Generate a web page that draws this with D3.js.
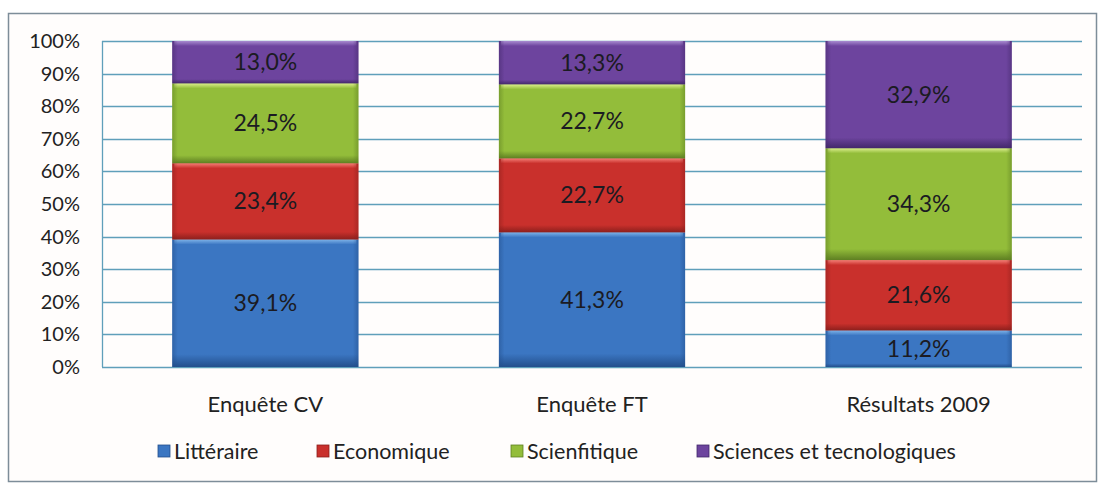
<!DOCTYPE html>
<html>
<head>
<meta charset="utf-8">
<script src="https://cdn.jsdelivr.net/npm/d3@7"></script>
<style>
  body { margin: 0; background: #fff; }
  svg { display: block; font-family: "Lato", "Open Sans", sans-serif; }
</style>
</head>
<body>
<svg id="chart"></svg>
<script>
const width = 1098;
const height = 485;

// data
const categories = ["Enquête CV", "Enquête FT", "Résultats 2009"];
const seriesNames = ["Littéraire", "Economique", "Scienfitique", "Sciences et tecnologiques"];
const litteraire = [39.1, 41.3, 11.2];
const economique = [23.4, 22.7, 21.6];
const scienfitique = [24.5, 22.7, 34.3];
const sciences = [13.0, 13.3, 32.9];
const yTicks = [0, 10, 20, 30, 40, 50, 60, 70, 80, 90, 100];

const seriesValues = [litteraire, economique, scienfitique, sciences];
const colors = [
  { base: "#3b76c2", light: "#7db2e8", dark: "#234f8c" },
  { base: "#c9302c", light: "#f47e76", dark: "#8c1f1c" },
  { base: "#93bd3a", light: "#dbee8c", dark: "#5e7f22" },
  { base: "#6d449e", light: "#a88bd0", dark: "#43286a" }
];

const plot = { left: 102, right: 1082, top: 41, bottom: 367 };
const bevel = 5; // px height of the light top edge

var svg = d3.select("#chart").attr("width", width).attr("height", height);
var defs = svg.append("defs");

// chart frame
svg.append("rect")
  .attr("x", 8.5).attr("y", 13.5)
  .attr("width", 1088).attr("height", 468)
  .attr("fill", "#fffdfc")
  .attr("stroke", "#7d8d99").attr("stroke-width", 1.5);

var x = d3.scaleBand()
  .domain(categories)
  .range([plot.left, plot.right])
  .paddingInner(0.43).paddingOuter(0.215);

var y = d3.scaleLinear().domain([0, 100]).range([plot.bottom, plot.top]);

// gridlines
svg.append("g").selectAll("line")
  .data(yTicks)
  .enter().append("line")
  .attr("x1", plot.left).attr("x2", plot.right)
  .attr("y1", d => Math.round(y(d)) + 0.5)
  .attr("y2", d => Math.round(y(d)) + 0.5)
  .attr("stroke", "#5f9fba").attr("stroke-width", 1.3);

svg.append("line")
  .attr("x1", plot.left + 0.5).attr("x2", plot.left + 0.5)
  .attr("y1", plot.top).attr("y2", plot.bottom)
  .attr("stroke", "#5f9fba").attr("stroke-width", 1.3);

// y axis labels
svg.append("g").selectAll("text")
  .data(yTicks)
  .enter().append("text")
  .attr("x", 80)
  .attr("y", d => y(d))
  .attr("dy", "0.35em")
  .attr("text-anchor", "end")
  .attr("font-size", 20)
  .attr("fill", "#222")
  .text(d => d + "%");

// gradients for the bevelled bars
colors.forEach((c, i) => {
  var g = defs.append("linearGradient").attr("id", "grad" + i)
    .attr("x1", 0).attr("x2", 0).attr("y1", 0).attr("y2", 1);
  g.append("stop").attr("offset", "0%").attr("stop-color", c.base);
  g.append("stop").attr("offset", "90%").attr("stop-color", c.base);
  g.append("stop").attr("offset", "100%").attr("stop-color", c.dark);
  var t = defs.append("linearGradient").attr("id", "top" + i)
    .attr("x1", 0).attr("x2", 0).attr("y1", 0).attr("y2", 1);
  t.append("stop").attr("offset", "0%").attr("stop-color", c.light);
  t.append("stop").attr("offset", "100%").attr("stop-color", c.base);
  var s = defs.append("linearGradient").attr("id", "side" + i)
    .attr("x1", 0).attr("x2", 1).attr("y1", 0).attr("y2", 0);
  s.append("stop").attr("offset", "0%").attr("stop-color", c.dark).attr("stop-opacity", 0.5);
  s.append("stop").attr("offset", "3%").attr("stop-color", c.dark).attr("stop-opacity", 0);
  s.append("stop").attr("offset", "97%").attr("stop-color", c.dark).attr("stop-opacity", 0);
  s.append("stop").attr("offset", "100%").attr("stop-color", c.dark).attr("stop-opacity", 0.5);
});

var table = categories.map((c, i) => {
  var row = { cat: c };
  seriesNames.forEach((s, k) => { row[s] = seriesValues[k][i]; });
  return row;
});
var stacked = d3.stack().keys(seriesNames)(table);

var layer = svg.append("g").selectAll("g")
  .data(stacked)
  .enter().append("g");

var seg = layer.selectAll("g")
  .data((d, i) => d.map(p => ({ p: p, i: i })))
  .enter().append("g");

seg.append("rect")
  .attr("x", d => x(d.p.data.cat))
  .attr("y", d => y(d.p[1]))
  .attr("width", x.bandwidth())
  .attr("height", d => y(d.p[0]) - y(d.p[1]))
  .attr("fill", d => "url(#grad" + d.i + ")");

// light top edge
seg.append("rect")
  .attr("x", d => x(d.p.data.cat) + 2)
  .attr("y", d => y(d.p[1]))
  .attr("width", x.bandwidth() - 4)
  .attr("height", bevel)
  .attr("fill", d => "url(#top" + d.i + ")");

seg.append("rect")
  .attr("x", d => x(d.p.data.cat))
  .attr("y", d => y(d.p[1]))
  .attr("width", x.bandwidth())
  .attr("height", d => y(d.p[0]) - y(d.p[1]))
  .attr("fill", d => "url(#side" + d.i + ")");

seg.append("text")
  .attr("x", d => x(d.p.data.cat) + x.bandwidth() / 2)
  .attr("y", d => (y(d.p[0]) + y(d.p[1])) / 2)
  .attr("dy", "0.35em")
  .attr("text-anchor", "middle")
  .attr("font-size", 23)
  .attr("fill", "#1b1b22")
  .text(d => d3.format(".1f")(d.p[1] - d.p[0]).replace(".", ",") + "%");

// category labels
svg.append("g").selectAll("text")
  .data(categories)
  .enter().append("text")
  .attr("x", d => x(d) + x.bandwidth() / 2)
  .attr("y", 404)
  .attr("dy", "0.35em")
  .attr("text-anchor", "middle")
  .attr("font-size", 22)
  .attr("fill", "#222")
  .text(d => d);

// legend
const legendX = [158, 317, 511, 697];
var legend = svg.append("g").selectAll("g")
  .data(seriesNames)
  .enter().append("g")
  .attr("transform", (d, i) => `translate(${legendX[i]},451)`);

legend.append("rect")
  .attr("x", 0).attr("y", -6)
  .attr("width", 12).attr("height", 12)
  .attr("fill", (d, i) => colors[i].base)
  .attr("stroke", (d, i) => colors[i].dark).attr("stroke-width", 0.8);

legend.append("text")
  .attr("x", 16).attr("y", 0)
  .attr("dy", "0.35em")
  .attr("font-size", 21.5)
  .attr("fill", "#222")
  .text(d => d);
</script>
</body>
</html>
